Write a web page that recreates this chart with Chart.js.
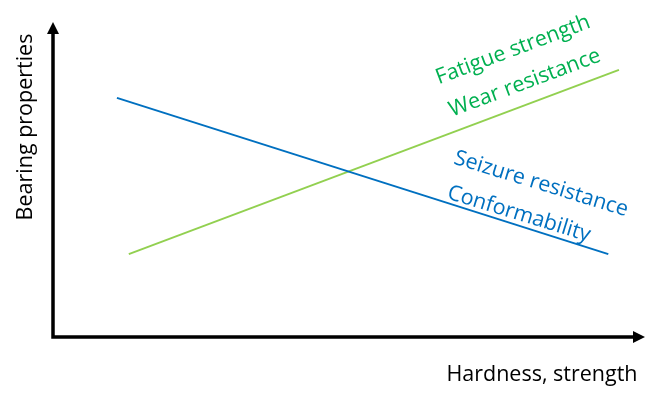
<!DOCTYPE html>
<html>
<head>
<meta charset="utf-8">
<script src="https://cdn.jsdelivr.net/npm/chart.js@4/dist/chart.umd.min.js"></script>
<style>
  html, body { margin: 0; padding: 0; background: #fff; }
  #wrap { width: 657px; height: 404px; }
</style>
</head>
<body>
<div id="wrap"><canvas id="bearingCanvas"></canvas></div>
<script>
// Hardness values (x) and property level (y), 0..100 arbitrary units
const hardnessBlue = [10.8, 93.8];
const seizureConform = [75.9, 26.3];
const hardnessGreen = [12.8, 95.6];
const fatigueWear = [26.3, 84.8];

const blueLabels = ['Seizure resistance', 'Conformability'];
const greenLabels = ['Fatigue strength', 'Wear resistance'];
const xTitle = 'Hardness, strength';
const yTitle = 'Bearing properties';

const FONT = '"Open Sans", Lato, sans-serif';

// axis arrows and the free-floating labels
const sketchPlugin = {
    id: 'sketch',
    afterDraw(chart) {
        const c = chart.ctx;
        const a = chart.chartArea;
        c.save();
        c.strokeStyle = '#000';
        c.fillStyle = '#000';
        c.lineWidth = 3.5;
        c.lineCap = 'butt';
        // axes
        c.beginPath();
        c.moveTo(a.left, a.top + 8);
        c.lineTo(a.left, a.bottom);
        c.lineTo(a.right - 8, a.bottom);
        c.stroke();
        // arrow heads
        c.beginPath();
        c.moveTo(a.left, a.top);
        c.lineTo(a.left - 6, a.top + 12);
        c.lineTo(a.left + 6, a.top + 12);
        c.closePath();
        c.fill();
        c.beginPath();
        c.moveTo(a.right, a.bottom);
        c.lineTo(a.right - 12, a.bottom - 6);
        c.lineTo(a.right - 12, a.bottom + 6);
        c.closePath();
        c.fill();

        c.font = '21.5px ' + FONT;
        c.textAlign = 'center';
        c.textBaseline = 'middle';
        // axis titles
        c.fillText(xTitle, 542, 375);
        c.save();
        c.translate(26, 127);
        c.rotate(-Math.PI / 2);
        c.fillText(yTitle, 0, 0);
        c.restore();

        // green labels
        c.fillStyle = '#00b050';
        const gAng = -20.5 * Math.PI / 180;
        [[513, 50], [525, 83]].forEach((p, i) => {
            c.save();
            c.translate(p[0], p[1]);
            c.rotate(gAng);
            c.fillText(greenLabels[i], 0, 0);
            c.restore();
        });
        // blue labels
        c.fillStyle = '#0070c0';
        const bAng = 17 * Math.PI / 180;
        [[541, 184], [519, 214]].forEach((p, i) => {
            c.save();
            c.translate(p[0], p[1]);
            c.rotate(bAng);
            c.fillText(blueLabels[i], 0, 0);
            c.restore();
        });
        c.restore();
    }
};

new Chart(document.getElementById('bearingCanvas'), {
    type: 'scatter',
    data: {
        datasets: [{
            label: 'Seizure resistance / Conformability',
            data: hardnessBlue.map((x, i) => ({ x: x, y: seizureConform[i] })),
            showLine: true,
            borderColor: '#0070c0',
            borderWidth: 2,
            pointRadius: 0
        }, {
            label: 'Fatigue strength / Wear resistance',
            data: hardnessGreen.map((x, i) => ({ x: x, y: fatigueWear[i] })),
            showLine: true,
            borderColor: '#92d050',
            borderWidth: 2,
            pointRadius: 0
        }]
    },
    options: {
        responsive: true,
        maintainAspectRatio: false,
        animation: false,
        layout: { padding: { left: 53, top: 22, right: 12, bottom: 67 } },
        scales: {
            x: { type: 'linear', min: 0, max: 100, display: false },
            y: { type: 'linear', min: 0, max: 100, display: false }
        },
        plugins: {
            legend: { display: false },
            tooltip: { enabled: false }
        }
    },
    plugins: [sketchPlugin]
});
</script>
</body>
</html>
